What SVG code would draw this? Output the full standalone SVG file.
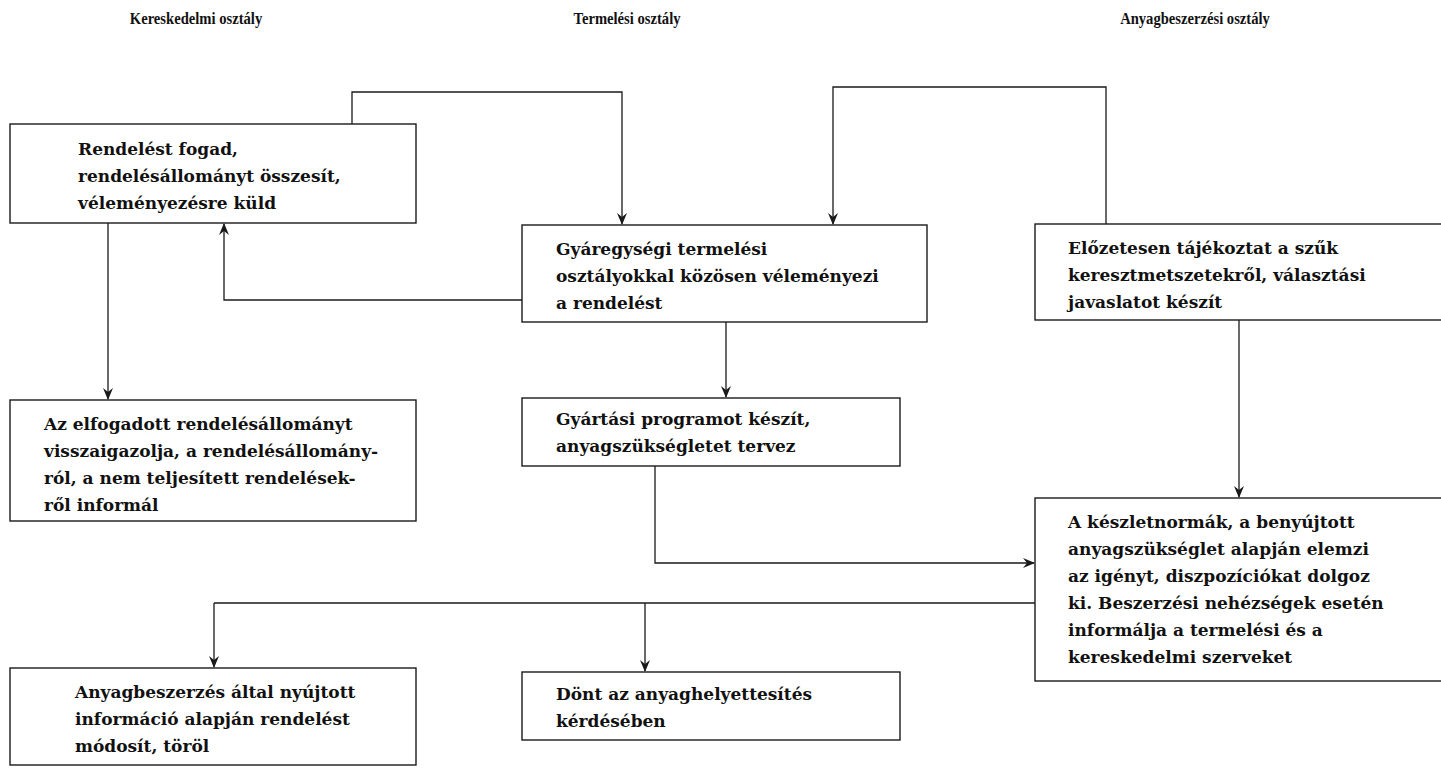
<svg xmlns="http://www.w3.org/2000/svg" width="1441" height="768" viewBox="0 0 1441 768">
<style>
  .bg { fill: #ffffff; }
  .box { fill: none; stroke: #1a1a1a; stroke-width: 1.4; }
  .hdr { font-family: "Liberation Serif", "DejaVu Serif", serif; font-weight: bold; font-size: 17px; fill: #111; }
  .txt { font-family: "DejaVu Serif", "Liberation Serif", serif; font-weight: bold; font-size: 17px; fill: #111; }
  .con { fill: none; stroke: #1a1a1a; stroke-width: 1.3; }
</style>
<defs>
  <marker id="arr" viewBox="0 0 12 10" refX="11" refY="5" markerWidth="12" markerHeight="10" markerUnits="userSpaceOnUse" orient="auto">
    <path d="M0,0 L12,5 L0,10 L4,5 Z" fill="#1a1a1a"/>
  </marker>
</defs>
<rect class="bg" x="0" y="0" width="1441" height="768"/>

<g id="headers">
  <text class="hdr" transform="translate(196,24) scale(0.86,1)" text-anchor="middle">Kereskedelmi osztály</text>
  <text class="hdr" transform="translate(627,24) scale(0.86,1)" text-anchor="middle">Termelési osztály</text>
  <text class="hdr" transform="translate(1195,24) scale(0.86,1)" text-anchor="middle">Anyagbeszerzési osztály</text>
</g>

<g id="connectors">
  <polyline class="con" points="352,124 352,92 622,92 622,224" marker-end="url(#arr)"/>
  <polyline class="con" points="1106,224 1106,87 833,87 833,224" marker-end="url(#arr)"/>
  <polyline class="con" points="522,300 224,300 224,224" marker-end="url(#arr)"/>
  <polyline class="con" points="108,223 108,399" marker-end="url(#arr)"/>
  <polyline class="con" points="726,322 726,397" marker-end="url(#arr)"/>
  <polyline class="con" points="1239,320 1239,497" marker-end="url(#arr)"/>
  <polyline class="con" points="655,466 655,563 1034,563" marker-end="url(#arr)"/>
  <polyline class="con" points="1035,603 214,603"/>
  <polyline class="con" points="214,603 214,667" marker-end="url(#arr)"/>
  <polyline class="con" points="645,603 645,671" marker-end="url(#arr)"/>
</g>

<g id="n1">
  <rect class="box" x="10" y="124" width="406" height="99"/>
  <text class="txt" x="78" y="155">Rendelést fogad,</text>
  <text class="txt" x="78" y="182">rendelésállományt összesít,</text>
  <text class="txt" x="78" y="209">véleményezésre küld</text>
</g>
<g id="n2">
  <rect class="box" x="522" y="225" width="405" height="97"/>
  <text class="txt" x="556" y="255">Gyáregységi termelési</text>
  <text class="txt" x="556" y="282">osztályokkal közösen véleményezi</text>
  <text class="txt" x="556" y="309">a rendelést</text>
</g>
<g id="n3">
  <rect class="box" x="1035" y="224" width="410" height="96"/>
  <text class="txt" x="1068" y="254">Előzetesen tájékoztat a szűk</text>
  <text class="txt" x="1068" y="281">keresztmetszetekről, választási</text>
  <text class="txt" x="1068" y="308">javaslatot készít</text>
</g>
<g id="n4">
  <rect class="box" x="10" y="400" width="406" height="121"/>
  <text class="txt" x="44" y="430">Az elfogadott rendelésállományt</text>
  <text class="txt" x="44" y="457">visszaigazolja, a rendelésállomány-</text>
  <text class="txt" x="44" y="484">ról, a nem teljesített rendelések-</text>
  <text class="txt" x="44" y="511">ről informál</text>
</g>
<g id="n5">
  <rect class="box" x="522" y="398" width="378" height="68"/>
  <text class="txt" x="556" y="425">Gyártási programot készít,</text>
  <text class="txt" x="556" y="452">anyagszükségletet tervez</text>
</g>
<g id="n6">
  <rect class="box" x="1035" y="498" width="410" height="183"/>
  <text class="txt" x="1068" y="528">A készletnormák, a benyújtott</text>
  <text class="txt" x="1068" y="555">anyagszükséglet alapján elemzi</text>
  <text class="txt" x="1068" y="582">az igényt, diszpozíciókat dolgoz</text>
  <text class="txt" x="1068" y="609">ki. Beszerzési nehézségek esetén</text>
  <text class="txt" x="1068" y="636">informálja a termelési és a</text>
  <text class="txt" x="1068" y="663">kereskedelmi szerveket</text>
</g>
<g id="n7">
  <rect class="box" x="10" y="668" width="406" height="97"/>
  <text class="txt" x="75" y="698">Anyagbeszerzés által nyújtott</text>
  <text class="txt" x="75" y="725">információ alapján rendelést</text>
  <text class="txt" x="75" y="752">módosít, töröl</text>
</g>
<g id="n8">
  <rect class="box" x="522" y="672" width="378" height="68"/>
  <text class="txt" x="556" y="700">Dönt az anyaghelyettesítés</text>
  <text class="txt" x="556" y="727">kérdésében</text>
</g>
</svg>
